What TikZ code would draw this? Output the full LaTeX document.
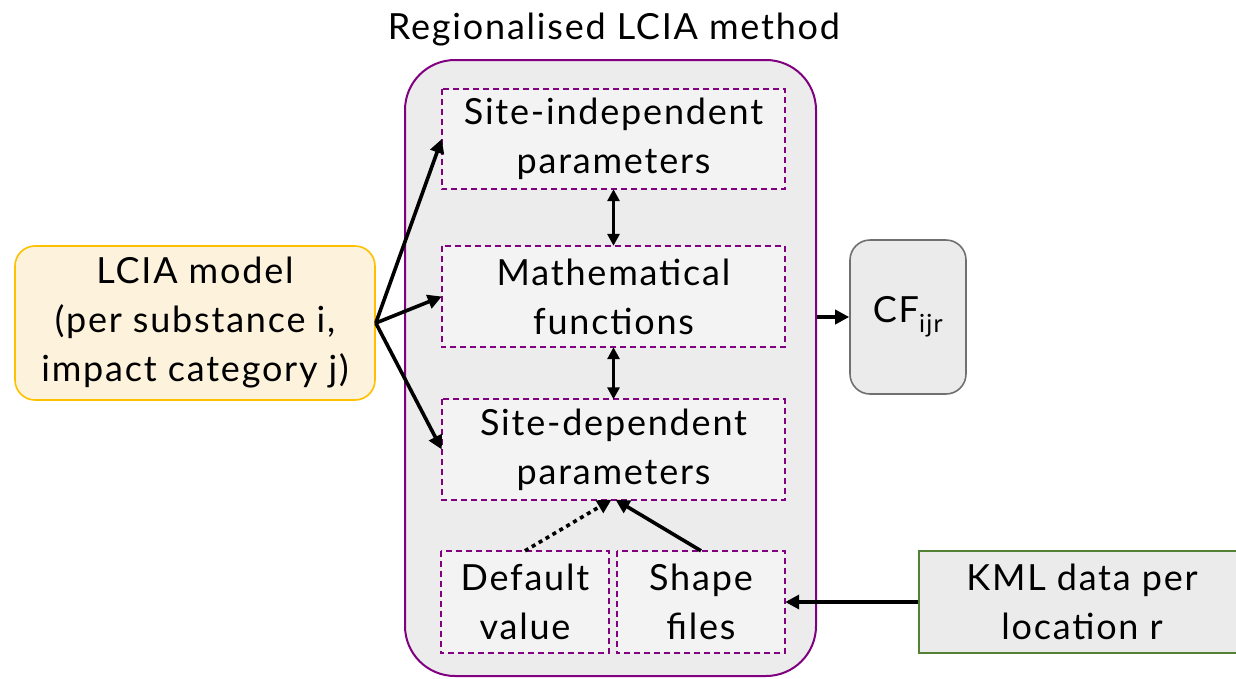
\documentclass[tikz,border=0pt]{standalone}
\usepackage{fontspec}
\setmainfont{Lato}[LetterSpace=5]
\usetikzlibrary{arrows.meta}
\definecolor{purp}{RGB}{128,0,128}
\definecolor{bigfill}{RGB}{236,236,237}
\definecolor{innerfill}{RGB}{243,243,243}
\definecolor{ylwfill}{RGB}{253,243,220}
\definecolor{ylwline}{RGB}{255,192,0}
\definecolor{cffill}{RGB}{235,235,235}
\definecolor{cfline}{RGB}{112,112,112}
\definecolor{kmlline}{RGB}{84,130,53}
\newcommand{\bodyfont}{\fontsize{36}{49}\selectfont}
\begin{document}
\begin{tikzpicture}[x=1pt,y=-1pt,
  inbox/.style={fill=innerfill, minimum width=343pt, minimum height=100pt, align=center,
    inner sep=0pt, font=\bodyfont},
  dashline/.style={draw=purp, dash pattern=on 6pt off 4pt, line width=1.8pt},
  smallbox/.style={inbox, minimum width=168pt, minimum height=102pt},
  arr/.style={line width=3.6pt, -{Triangle[length=14pt,width=14pt]}},
  darr/.style={line width=3pt, {Triangle[length=12pt,width=12pt]}-{Triangle[length=12pt,width=12pt]}},
  dotarr/.style={arr, dash pattern=on 4pt off 4pt},
  ]
\useasboundingbox (0,0) rectangle (1236,678);
\node[font=\bodyfont] (title) at (614,30) {Regionalised LCIA method};
\node[draw=purp, line width=2pt, fill=bigfill, rounded corners=50pt,
  minimum width=411pt, minimum height=616pt, inner sep=0pt] (method) at (610.5,368) {};
\node[inbox] (sitein) at (613.5,139) {Site-independent\\parameters};
\node[inbox, minimum height=101pt] (math) at (613.5,296.5) {Mathematical\\functions};
\node[inbox] (sitedep) at (613.5,449.5) {Site-dependent\\parameters};
\node[smallbox] (default) at (525,602) {Default\\value};
\node[smallbox] (shape) at (701,602) {Shape\\files};
\foreach \b in {sitein,math,sitedep,default,shape}
  \draw[dashline] (\b.north west) rectangle (\b.south east);
\node[draw=ylwline, line width=1.6pt, fill=ylwfill, rounded corners=20pt,
  minimum width=360pt, minimum height=154pt, align=center, inner sep=0pt, font=\bodyfont]
  (lcia) at (195,323) {LCIA model\\(per substance i,\\impact category j)};
\node[draw=cfline, line width=1.6pt, fill=cffill, rounded corners=20pt,
  minimum width=116pt, minimum height=154pt, inner sep=0pt, font=\bodyfont]
  (cf) at (908,317) {CF\textsubscript{\fontsize{25}{25}\selectfont ijr}};
\node[draw=kmlline, line width=1.6pt, fill=cffill, minimum width=326pt, minimum height=102pt,
  align=center, inner sep=0pt, font=\bodyfont] (kml) at (1082,602) {KML data per\\location r};
\draw[arr] (lcia.east) -- (sitein.west);
\draw[arr] (lcia.east) -- (math.west);
\draw[arr] (lcia.east) -- (sitedep.west);
\draw[darr] (sitein.south) -- (math.north);
\draw[darr] (math.south) -- (sitedep.north);
\draw[arr] (method.east |- cf.west) -- (cf.west);
\draw[arr] (kml.west) -- (shape.east);
\draw[arr] (shape.north) -- ([xshift=2pt]sitedep.south);
\draw[dotarr] (default.north) -- ([xshift=-2pt]sitedep.south);
\end{tikzpicture}
\end{document}
